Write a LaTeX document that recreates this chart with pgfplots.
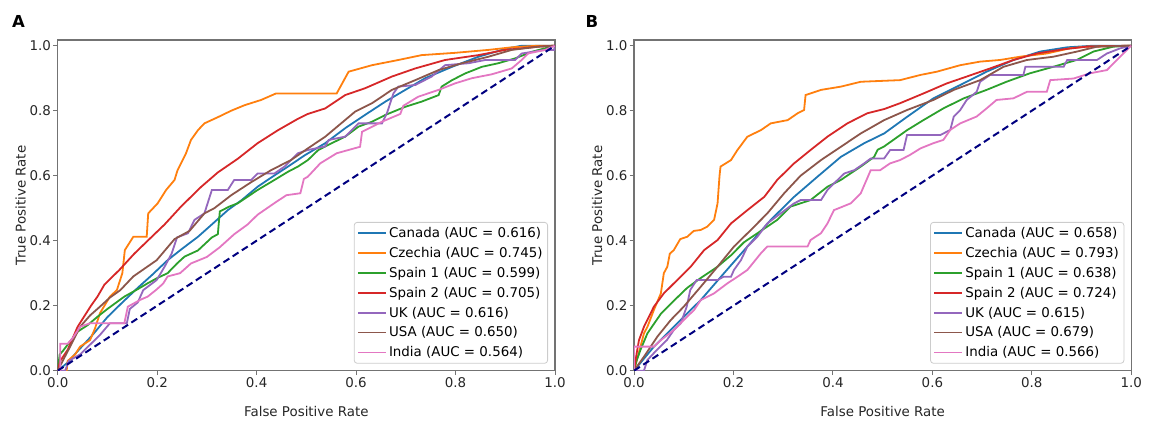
\documentclass[border=0pt]{standalone}
\usepackage{fontspec}
\setmainfont{DejaVu Sans}
\usepackage{pgfplots}
\pgfplotsset{compat=1.18}
\definecolor{cCan}{HTML}{1F77B4}
\definecolor{cCze}{HTML}{FF7F0E}
\definecolor{cSp1}{HTML}{2CA02C}
\definecolor{cSp2}{HTML}{D62728}
\definecolor{cUK}{HTML}{9467BD}
\definecolor{cUSA}{HTML}{8C564B}
\definecolor{cInd}{HTML}{E377C2}
\definecolor{diagnavy}{HTML}{000080}
\newcommand{\lbl}{\fontsize{13.4}{16}\selectfont}

\pgfplotsset{
  rocaxis/.style={
    scale only axis, width=497.3pt, height=330.7pt,
    xmin=0, xmax=1, ymin=0, ymax=1.0175,
    axis line style={black!55, line width=1.1pt},
    xtick={0,0.2,0.4,0.6,0.8,1}, ytick={0,0.2,0.4,0.6,0.8,1},
    tick align=outside, major tick length=4.5pt,
    tick style={black!55, line width=1pt},
    xtick pos=bottom, ytick pos=left,
    /pgf/number format/fixed, /pgf/number format/fixed zerofill,
    /pgf/number format/precision=1,
    /pgf/number format/assume math mode=true,
    ticklabel style={font=\lbl, text=black!85},
    xticklabel style={inner sep=1pt, yshift=-1pt},
    yticklabel style={inner sep=1pt, xshift=-1pt},
    xlabel={False Positive Rate}, ylabel={True Positive Rate},
    label style={font=\lbl, text=black!85},
    xlabel style={at={(axis description cs:0.5,0)}, anchor=center, yshift=-41pt},
    ylabel style={at={([xshift=-37pt]axis description cs:0,0.5)}, anchor=center},
    every axis plot/.append style={line width=1.8pt},
    legend cell align=left,
    legend image code/.code={\draw[##1, line width=1.8pt] (0pt,0pt) -- (28pt,0pt);},
    legend style={at={(axis description cs:1,0)}, anchor=south east,
      xshift=-7pt, yshift=7pt, draw=black!20, line width=0.8pt,
      rounded corners=3pt, fill=white, font=\lbl,
      inner xsep=3pt, inner ysep=3pt, row sep=4.2pt},
  }
}

\begin{document}
\begin{tikzpicture}
\path[use as bounding box] (0,0) rectangle (1155pt,420pt);
\node[font=\bfseries\fontsize{16.5}{18}\selectfont] at (18.5pt,399pt) {A};
\node[font=\bfseries\fontsize{16.5}{18}\selectfont] at (592pt,399pt) {B};

% panel A
\begin{axis}[rocaxis, at={(57.7pt,49.3pt)}, anchor=south west]
\addplot[cCan] coordinates {
(0,0) (0.02,0.025) (0.04,0.06) (0.07,0.11) (0.1,0.165) (0.13,0.21) (0.161,0.255) (0.19,0.295)
(0.221,0.34) (0.25,0.375) (0.282,0.412) (0.31,0.45) (0.342,0.494) (0.37,0.525) (0.402,0.566)
(0.43,0.595) (0.463,0.628) (0.498,0.664) (0.538,0.70) (0.578,0.746) (0.618,0.787) (0.659,0.828)
(0.699,0.864) (0.739,0.9) (0.793,0.935) (0.846,0.966) (0.9,0.99) (0.933,1) (1,1)};
\addlegendentry{Canada (AUC = 0.616)}
\addplot[cCze] coordinates {
(0,0) (0.018,0) (0.02,0.03) (0.035,0.05) (0.045,0.074) (0.065,0.094) (0.075,0.13) (0.085,0.177)
(0.105,0.228) (0.119,0.248) (0.13,0.3) (0.135,0.371) (0.152,0.412) (0.179,0.412) (0.182,0.484)
(0.201,0.515) (0.218,0.556) (0.235,0.587) (0.241,0.617) (0.258,0.669) (0.268,0.71) (0.282,0.74)
(0.295,0.761) (0.322,0.78) (0.349,0.80) (0.376,0.817) (0.409,0.833) (0.439,0.853) (0.5,0.853)
(0.561,0.853) (0.585,0.92) (0.632,0.94) (0.685,0.956) (0.732,0.971) (0.799,0.978) (0.866,0.987)
(0.913,0.995) (0.967,1) (1,1)};
\addlegendentry{Czechia (AUC = 0.745)}
\addplot[cSp1] coordinates {
(0,0) (0.004,0.05) (0.01,0.06) (0.03,0.1) (0.04,0.12) (0.06,0.14) (0.08,0.166) (0.1,0.19)
(0.134,0.228) (0.16,0.25) (0.181,0.269) (0.2,0.285) (0.221,0.3) (0.24,0.33) (0.255,0.351)
(0.282,0.37) (0.31,0.41) (0.322,0.42) (0.326,0.49) (0.345,0.505) (0.362,0.515) (0.402,0.556)
(0.436,0.587) (0.463,0.612) (0.483,0.628) (0.503,0.648) (0.524,0.679) (0.551,0.7) (0.578,0.72)
(0.605,0.751) (0.632,0.766) (0.659,0.787) (0.699,0.812) (0.732,0.828) (0.766,0.848) (0.772,0.874)
(0.793,0.894) (0.82,0.915) (0.853,0.935) (0.886,0.946) (0.92,0.961) (0.953,0.981) (0.98,0.992) (1,1)};
\addlegendentry{Spain 1 (AUC = 0.599)}
\addplot[cSp2] coordinates {
(0,0) (0.005,0.03) (0.02,0.064) (0.04,0.135) (0.067,0.2) (0.08,0.228) (0.094,0.265) (0.124,0.31)
(0.154,0.36) (0.181,0.4) (0.215,0.45) (0.248,0.505) (0.288,0.565) (0.322,0.61) (0.362,0.652)
(0.402,0.7) (0.443,0.74) (0.483,0.775) (0.503,0.79) (0.538,0.807) (0.578,0.848) (0.618,0.869)
(0.672,0.905) (0.719,0.93) (0.779,0.956) (0.846,0.971) (0.9,0.987) (0.967,0.997) (1,1)};
\addlegendentry{Spain 2 (AUC = 0.705)}
\addplot[cUK] coordinates {
(0,0) (0.015,0) (0.022,0.03) (0.045,0.05) (0.065,0.08) (0.085,0.11) (0.105,0.146) (0.139,0.146)
(0.145,0.19) (0.161,0.21) (0.172,0.248) (0.199,0.279) (0.215,0.32) (0.229,0.36) (0.24,0.41)
(0.262,0.423) (0.275,0.464) (0.295,0.484) (0.31,0.556) (0.342,0.556) (0.355,0.587) (0.389,0.587)
(0.402,0.607) (0.436,0.607) (0.456,0.628) (0.483,0.669) (0.503,0.679) (0.538,0.69) (0.545,0.71)
(0.578,0.72) (0.605,0.761) (0.652,0.761) (0.662,0.792) (0.675,0.853) (0.685,0.874) (0.719,0.879)
(0.752,0.905) (0.779,0.94) (0.826,0.946) (0.86,0.956) (0.92,0.956) (0.933,0.976) (0.98,0.987)
(0.998,0.987) (1,1)};
\addlegendentry{UK (AUC = 0.616)}
\addplot[cUSA] coordinates {
(0,0) (0.01,0.03) (0.027,0.08) (0.045,0.135) (0.065,0.17) (0.085,0.197) (0.105,0.225) (0.126,0.248)
(0.152,0.29) (0.199,0.34) (0.235,0.405) (0.265,0.43) (0.295,0.484) (0.315,0.5) (0.349,0.54)
(0.389,0.58) (0.429,0.617) (0.469,0.648) (0.503,0.684) (0.538,0.72) (0.598,0.797) (0.632,0.823)
(0.672,0.864) (0.719,0.894) (0.766,0.925) (0.813,0.946) (0.866,0.966) (0.913,0.987) (0.967,0.997) (1,1)};
\addlegendentry{USA (AUC = 0.650)}
\addplot[cInd] coordinates {
(0,0) (0.005,0) (0.005,0.083) (0.02,0.083) (0.03,0.1) (0.045,0.135) (0.065,0.146) (0.134,0.146)
(0.141,0.197) (0.166,0.218) (0.181,0.228) (0.199,0.25) (0.212,0.268) (0.221,0.29) (0.246,0.3)
(0.268,0.33) (0.3,0.35) (0.326,0.38) (0.355,0.42) (0.382,0.45) (0.402,0.48) (0.44,0.52)
(0.46,0.54) (0.488,0.546) (0.495,0.59) (0.503,0.597) (0.528,0.638) (0.561,0.669) (0.608,0.689)
(0.612,0.735) (0.652,0.766) (0.689,0.79) (0.695,0.815) (0.725,0.843) (0.766,0.864) (0.799,0.884)
(0.833,0.9) (0.873,0.912) (0.913,0.93) (0.933,0.956) (0.946,0.976) (0.98,0.987) (1,1)};
\addlegendentry{India (AUC = 0.564)}
\addplot[diagnavy, line width=2pt, dash pattern=on 7pt off 4pt, forget plot] coordinates {(0,0) (1,1)};
\end{axis}

% panel B
\begin{axis}[rocaxis, at={(634pt,49.3pt)}, anchor=south west]
\addplot[cCan] coordinates {
(0,0) (0.04,0.074) (0.087,0.146) (0.134,0.217) (0.181,0.3) (0.228,0.382) (0.275,0.464) (0.322,0.535)
(0.369,0.597) (0.416,0.658) (0.463,0.7) (0.503,0.73) (0.549,0.781) (0.602,0.838) (0.656,0.879)
(0.709,0.92) (0.763,0.956) (0.817,0.982) (0.871,0.995) (0.924,1) (1,1)};
\addlegendentry{Canada (AUC = 0.658)}
\addplot[cCze] coordinates {
(0,0) (0.002,0.012) (0.013,0.074) (0.02,0.115) (0.027,0.135) (0.04,0.187) (0.054,0.238) (0.06,0.3)
(0.067,0.32) (0.072,0.36) (0.08,0.371) (0.093,0.405) (0.107,0.412) (0.12,0.43) (0.134,0.433)
(0.147,0.443) (0.161,0.464) (0.166,0.5) (0.168,0.515) (0.172,0.6) (0.174,0.628) (0.195,0.648)
(0.208,0.679) (0.228,0.72) (0.255,0.74) (0.275,0.761) (0.309,0.771) (0.329,0.792) (0.342,0.802)
(0.345,0.848) (0.376,0.864) (0.416,0.874) (0.456,0.889) (0.503,0.892) (0.535,0.894) (0.576,0.91)
(0.609,0.92) (0.656,0.94) (0.696,0.951) (0.736,0.956) (0.776,0.966) (0.83,0.976) (0.877,0.992)
(0.91,0.997) (1,1)};
\addlegendentry{Czechia (AUC = 0.793)}
\addplot[cSp1] coordinates {
(0,0) (0.005,0.03) (0.013,0.064) (0.027,0.115) (0.054,0.175) (0.08,0.215) (0.107,0.255) (0.134,0.285)
(0.168,0.32) (0.195,0.355) (0.221,0.395) (0.255,0.43) (0.288,0.464) (0.315,0.505) (0.355,0.525)
(0.389,0.566) (0.416,0.587) (0.456,0.628) (0.483,0.658) (0.49,0.68) (0.503,0.69) (0.549,0.74)
(0.582,0.771) (0.622,0.807) (0.663,0.838) (0.709,0.864) (0.749,0.889) (0.796,0.915) (0.843,0.935)
(0.89,0.956) (0.924,0.982) (0.964,0.997) (1,1)};
\addlegendentry{Spain 1 (AUC = 0.638)}
\addplot[cSp2] coordinates {
(0,0) (0.005,0.05) (0.01,0.094) (0.02,0.135) (0.04,0.197) (0.06,0.238) (0.087,0.279) (0.114,0.32)
(0.141,0.371) (0.168,0.402) (0.195,0.453) (0.228,0.494) (0.262,0.535) (0.288,0.587) (0.322,0.638)
(0.355,0.679) (0.389,0.72) (0.429,0.761) (0.469,0.792) (0.503,0.805) (0.535,0.823) (0.582,0.853)
(0.629,0.884) (0.669,0.905) (0.716,0.93) (0.763,0.956) (0.81,0.976) (0.864,0.989) (0.91,0.997) (1,1)};
\addlegendentry{Spain 2 (AUC = 0.724)}
\addplot[cUK] coordinates {
(0,0) (0.02,0) (0.027,0.033) (0.046,0.064) (0.066,0.094) (0.08,0.125) (0.094,0.146) (0.106,0.197)
(0.113,0.248) (0.126,0.279) (0.168,0.279) (0.18,0.289) (0.195,0.289) (0.201,0.31) (0.215,0.34)
(0.228,0.382) (0.248,0.412) (0.268,0.453) (0.295,0.484) (0.322,0.515) (0.335,0.525) (0.376,0.525)
(0.389,0.556) (0.402,0.576) (0.423,0.607) (0.443,0.617) (0.463,0.638) (0.476,0.653) (0.503,0.653)
(0.515,0.679) (0.542,0.679) (0.549,0.725) (0.616,0.725) (0.636,0.741) (0.643,0.782) (0.656,0.802)
(0.669,0.833) (0.689,0.858) (0.696,0.889) (0.716,0.91) (0.783,0.91) (0.787,0.935) (0.864,0.935)
(0.871,0.956) (0.931,0.956) (0.951,0.976) (0.978,0.992) (1,1)};
\addlegendentry{UK (AUC = 0.615)}
\addplot[cUSA] coordinates {
(0,0) (0.02,0.043) (0.047,0.105) (0.074,0.156) (0.1,0.197) (0.134,0.258) (0.168,0.32) (0.201,0.382)
(0.235,0.433) (0.268,0.484) (0.302,0.546) (0.335,0.6) (0.376,0.648) (0.416,0.689) (0.456,0.73)
(0.503,0.771) (0.549,0.802) (0.602,0.833) (0.643,0.864) (0.696,0.894) (0.743,0.935) (0.79,0.956)
(0.843,0.966) (0.891,0.982) (0.931,0.997) (1,1)};
\addlegendentry{USA (AUC = 0.679)}
\addplot[cInd] coordinates {
(0,0) (0,0.074) (0.04,0.074) (0.054,0.094) (0.08,0.125) (0.1,0.156) (0.121,0.187) (0.134,0.217)
(0.161,0.238) (0.188,0.269) (0.208,0.289) (0.228,0.31) (0.255,0.361) (0.268,0.382) (0.349,0.382)
(0.355,0.402) (0.376,0.423) (0.389,0.453) (0.402,0.494) (0.436,0.515) (0.456,0.546) (0.476,0.617)
(0.495,0.617) (0.515,0.638) (0.535,0.648) (0.555,0.664) (0.576,0.684) (0.602,0.7) (0.622,0.71)
(0.636,0.741) (0.656,0.761) (0.689,0.782) (0.709,0.807) (0.729,0.833) (0.763,0.838) (0.79,0.858)
(0.83,0.858) (0.837,0.894) (0.884,0.899) (0.917,0.915) (0.951,0.925) (0.971,0.956) (0.991,0.987) (1,1)};
\addlegendentry{India (AUC = 0.566)}
\addplot[diagnavy, line width=2pt, dash pattern=on 7pt off 4pt, forget plot] coordinates {(0,0) (1,1)};
\end{axis}
\end{tikzpicture}
\end{document}
